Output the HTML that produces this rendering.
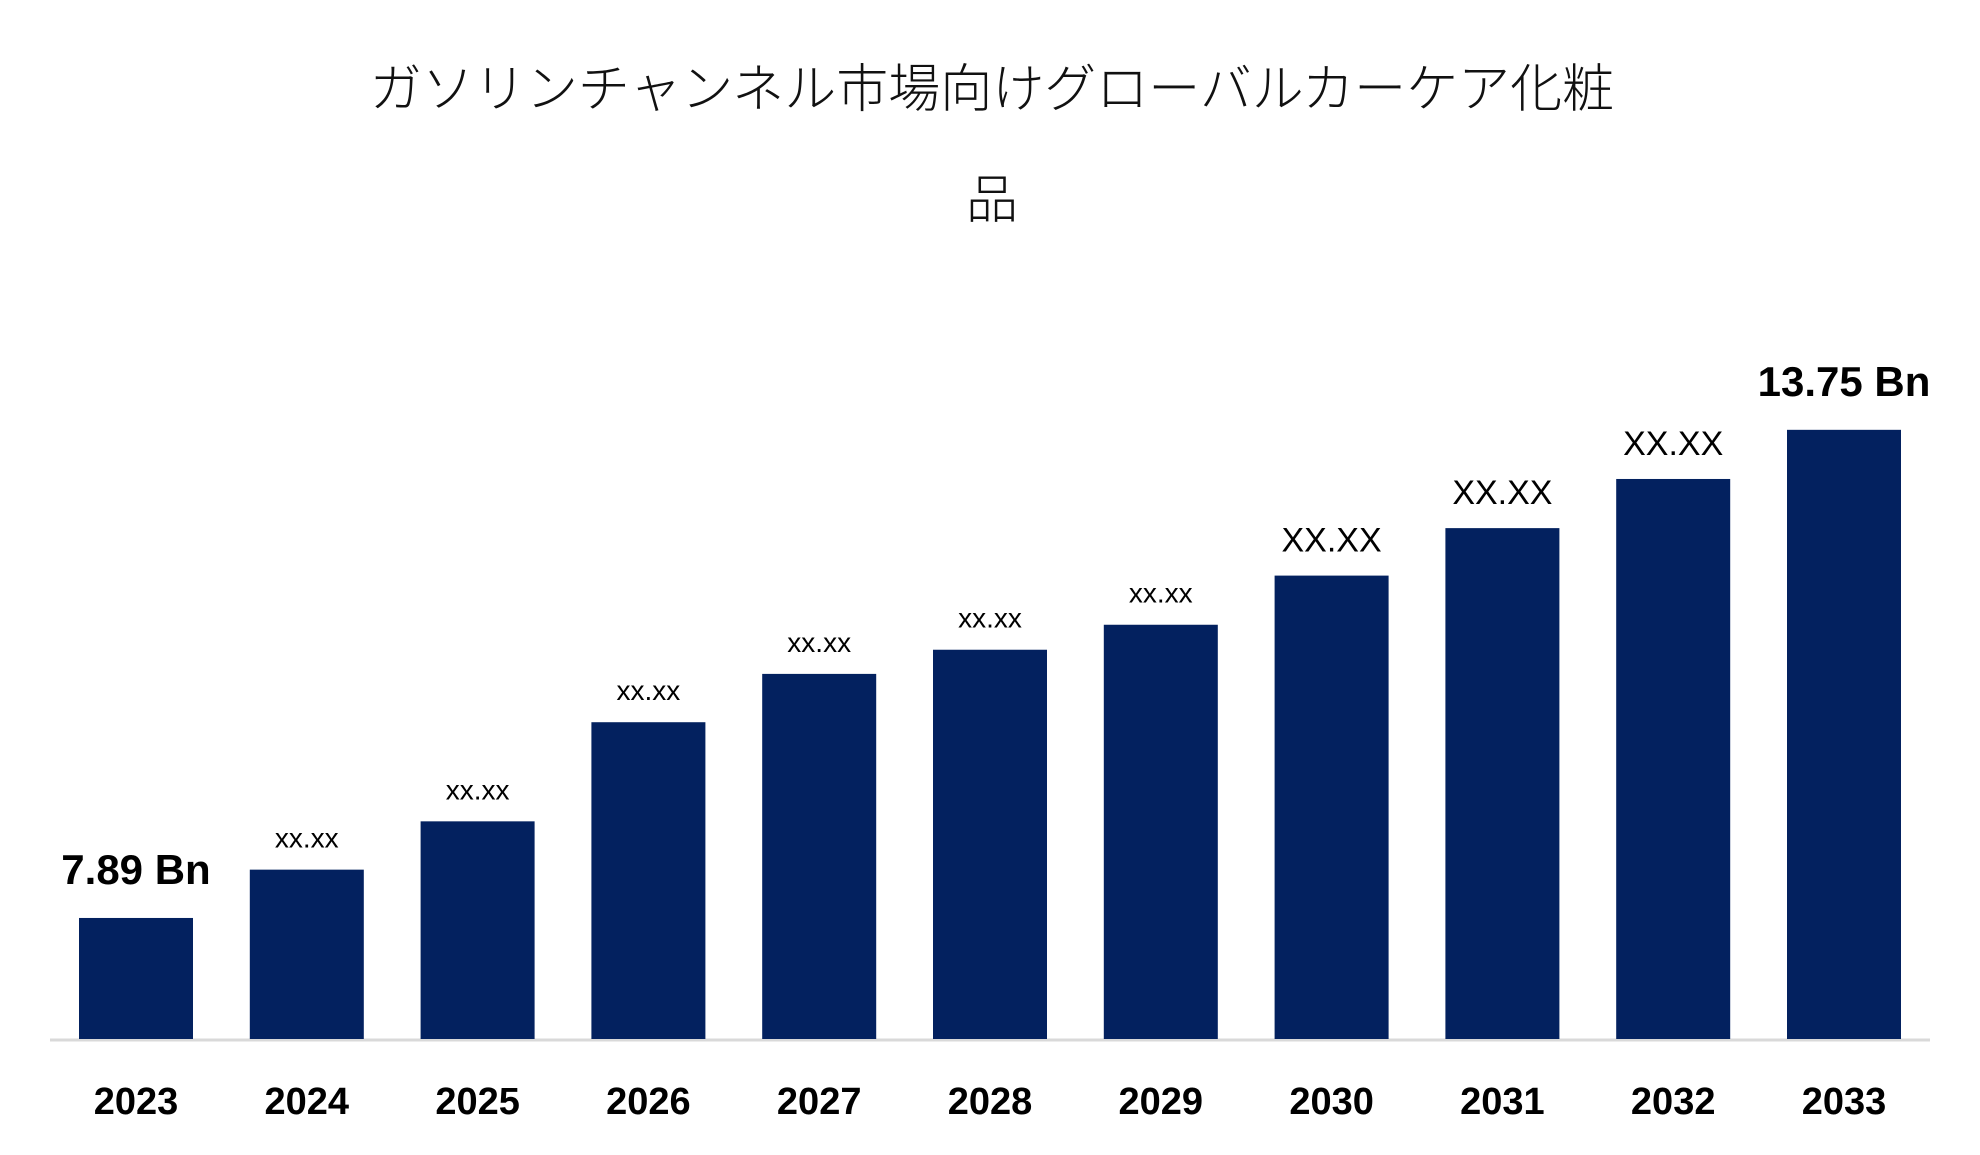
<!DOCTYPE html>
<html><head><meta charset="utf-8"><style>
body{margin:0;background:#fff;}
svg{display:block;}
</style></head><body>
<svg width="1980" height="1155" viewBox="0 0 1980 1155" xmlns="http://www.w3.org/2000/svg">
<g font-family="'Liberation Sans','Noto Sans CJK JP',sans-serif" font-size="52" font-weight="300" fill="#111" text-anchor="middle">
<text x="992" y="107">ガソリンチャンネル市場向けグローバルカーケア化粧</text>
<text x="992" y="218">品</text>
</g>
<line x1="50" y1="1040" x2="1930" y2="1040" stroke="#d9d9d9" stroke-width="3"/>
<g id="bars"></g>
<g id="labels"></g>
</svg>
<script>
const categories=["2023","2024","2025","2026","2027","2028","2029","2030","2031","2032","2033"];
const values=[7.89,8.47,9.05,10.24,10.82,11.11,11.41,12.00,12.57,13.16,13.75];
const valueLabels=["7.89 Bn","xx.xx","xx.xx","xx.xx","xx.xx","xx.xx","xx.xx","XX.XX","XX.XX","XX.XX","13.75 Bn"];
const NS="http://www.w3.org/2000/svg";
const base=1039, x0=136, pitch=170.8, bw=114;
const vmin=6.437, pxPer=83.3;
function xScale(i){return x0+i*pitch;}
function yScale(v){return base-(v-vmin)*pxPer;}
const bars=document.getElementById('bars'), labels=document.getElementById('labels');
categories.forEach((c,i)=>{
  const cx=xScale(i), top=yScale(values[i]);
  const r=document.createElementNS(NS,'rect');
  r.setAttribute('x',cx-bw/2);r.setAttribute('y',top);r.setAttribute('width',bw);r.setAttribute('height',base-top);
  r.setAttribute('fill','#03215f');
  
  
  bars.appendChild(r);
  const t=document.createElementNS(NS,'text');
  t.setAttribute('x',cx);t.setAttribute('y',1114);t.setAttribute('text-anchor','middle');
  t.setAttribute('font-family',"'Liberation Sans',sans-serif");t.setAttribute('font-weight','bold');t.setAttribute('font-size','38');
  t.textContent=c;
  
  
  labels.appendChild(t);
  const l=document.createElementNS(NS,'text');
  const lab=valueLabels[i];
  let fs=28, fw='normal', off=22;
  if(lab.indexOf('Bn')>=0){fs=42;fw='bold';off=34;}
  else if(lab==='XX.XX'){fs=34;off=24;}
  l.setAttribute('x',cx);l.setAttribute('y',top-off);l.setAttribute('text-anchor','middle');
  l.setAttribute('font-family',"'Liberation Sans',sans-serif");l.setAttribute('font-size',fs);l.setAttribute('font-weight',fw);
  l.textContent=lab;
  
  
  labels.appendChild(l);
});
</script>
</body></html>
